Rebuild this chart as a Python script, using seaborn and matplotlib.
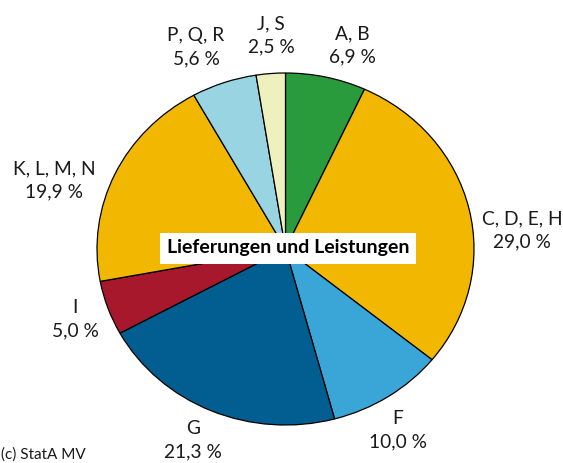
import matplotlib
matplotlib.use("Agg")
import matplotlib.pyplot as plt
import seaborn as sns

# ---- data ----
categories = ["A, B", "C, D, E, H", "F", "G", "I", "K, L, M, N", "P, Q, R", "J, S"]
shares = [6.9, 29.0, 10.0, 21.3, 5.0, 19.9, 5.6, 2.5]
share_labels = ["6,9 %", "29,0 %", "10,0 %", "21,3 %", "5,0 %", "19,9 %", "5,6 %", "2,5 %"]
title_text = "Lieferungen und Leistungen"
source_text = "(c) StatA MV"

# ---- style ----
colors = ["#2a9b3c", "#f2b700", "#3aa5d7", "#025e91", "#a8182d", "#f2b700", "#98d4e2", "#eef0bd"]
# label centres in pixels (layout only)
label_pos = [(352, 45), (522, 230), (398, 430), (193, 440), (75, 319), (54, 180), (196, 47), (271, 35)]

sns.set_style("white")
plt.rcParams["font.family"] = ["Lato", "DejaVu Sans"]

W, H = 563, 463
fig = plt.figure(figsize=(W / 100, H / 100), dpi=100)
ax = fig.add_axes([0, 0, 1, 1])
ax.pie(shares, colors=colors, startangle=90, counterclock=False,
       wedgeprops=dict(edgecolor="black", linewidth=0.9))
ax.set_aspect("auto")
cx, cy, rx, ry = 285.5, 249.0, 188.5, 176.0
ax.set_xlim(-cx / rx, (W - cx) / rx)
ax.set_ylim(-(H - cy) / ry, cy / ry)
ax.axis("off")

for cat, lab, (px, py) in zip(categories, share_labels, label_pos):
    fig.text(px / W, 1 - py / H, f"{cat}\n{lab}", ha="center", va="center",
             multialignment="center", fontsize=13.8, linespacing=1.42, color="#1a1a1a")

fig.text(288 / W, 1 - 248 / H, title_text, ha="center", va="center",
         fontsize=14, fontweight="bold", color="black",
         bbox=dict(facecolor="white", edgecolor="none", pad=5.0))

fig.text(1 / W, 1 - 455 / H, source_text, ha="left", va="center", fontsize=11, color="#1a1a1a")

fig.savefig("out.png", dpi=100)
